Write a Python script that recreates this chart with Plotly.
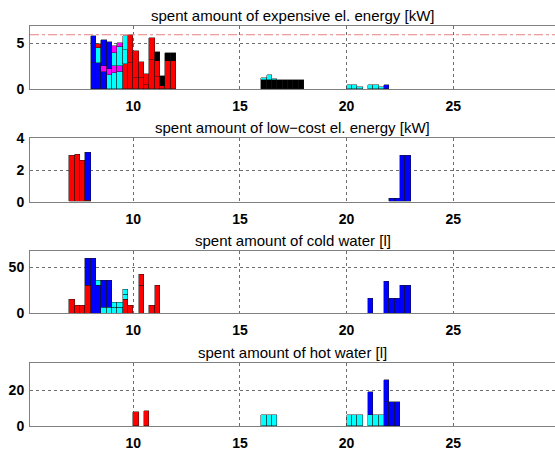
import plotly.graph_objects as go

# ---------------- data ----------------
PALETTE = ["#0000FF", "#00FFFF", "#FF00FF", "#FF0000", "#000000"]  # colour cycle of appliances

TITLES = [
    "spent amount of expensive el. energy [kW]",
    "spent amount of low\u2212cost el. energy [kW]",
    "spent amount of cold water [l]",
    "spent amount of hot water [l]",
]

X_TICKS = [10, 15, 20, 25]

# panel 1: expensive electric energy [kW]
T1 = [8.0, 8.25, 8.5, 8.75, 9.0, 9.25, 9.5, 9.75, 10.0, 10.25, 10.5, 10.75, 11.0, 11.25, 11.5, 11.75,
      16.0, 16.25, 16.5, 16.75, 17.0, 17.25, 17.5, 17.75,
      20.0, 20.25, 20.5, 21.0, 21.25, 21.5, 21.75]
E_A1 = [2.9, 2.9, 1.9, 0, 0, 0, 0, 0, 0, 0, 0, 0, 0, 0, 0, 0,
        0, 0, 0, 0, 0, 0, 0, 0,
        0, 0, 0, 0, 0, 0, 0.43]
E_A2 = [0, 1.55, 0, 1.6, 1.8, 1.9, 0, 0, 0, 0, 0, 0, 0, 0, 0, 0,
        0, 0, 0, 0, 0, 0, 0, 0,
        0.43, 0.5, 0.29, 0.5, 0.5, 0.29, 0]
E_A3 = [0, 0, 0.6, 0.65, 0.75, 0.65, 0, 0, 0, 0, 0, 0, 0, 0, 0, 0,
        0, 0, 0, 0, 0, 0, 0, 0,
        0, 0, 0, 0, 0, 0, 0]
E_A4 = [0, 0.45, 0, 0, 0, 0, 2.8, 2.9, 1.25, 1.2, 0.45, 3.15, 1.3, 0.4, 3.1, 3.1,
        0, 0, 0, 0, 0, 0, 0, 0,
        0, 0, 0, 0, 0, 0, 0]
E_A5 = [0, 0, 0, 0, 0, 0, 0, 0, 0, 0, 0, 0, 0, 0, 0, 0,
        1.05, 1.05, 1.05, 1.05, 1.05, 1.05, 1.05, 1.05,
        0, 0, 0, 0, 0, 0, 0]
E_A6 = [2.9, 0, 2.9, 2.9, 0, 0, 0, 0, 0, 0, 0, 0, 0, 0, 0, 0,
        0, 0, 0, 0, 0, 0, 0, 0,
        0, 0, 0, 0, 0, 0, 0]
E_A7 = [0, 0, 0, 0, 1.35, 2.0, 1.5, 0, 0, 0, 0, 0, 0, 0, 0, 0,
        0.2, 0.55, 0.07, 0, 0, 0, 0, 0,
        0, 0, 0, 0, 0, 0, 0]
E_A8 = [0, 0, 0, 0, 0.8, 0.45, 0, 0, 0, 0, 0, 0, 0, 0, 0, 0,
        0, 0, 0, 0, 0, 0, 0, 0,
        0, 0, 0, 0, 0, 0, 0]
E_A9 = [0, 0, 0, 0, 0, 0, 0, 3.0, 2.95, 1.8, 1.25, 2.4, 1.8, 0, 0, 0,
        0, 0, 0, 0, 0, 0, 0, 0,
        0, 0, 0, 0, 0, 0, 0]
E_A10 = [0, 0, 0, 0, 0, 0, 0, 0, 0, 0, 0, 0, 0.95, 1.0, 0.85, 0.85,
         0, 0, 0, 0, 0, 0, 0, 0,
         0, 0, 0, 0, 0, 0, 0]
E_A12 = [0, 0, 0, 0, 0, 0, 1.5, 0, 0, 0, 0, 0, 0, 0, 0, 0,
         0, 0, 0, 0, 0, 0, 0, 0,
         0, 0, 0, 0, 0, 0, 0]
E_LIMIT = 5.93  # power limit (dash-dot line)

# panel 2: low-cost electric energy [kW]
T2 = [7.0, 7.25, 7.5, 7.75, 22.0, 22.25, 22.5, 22.75]
L_A4 = [2.95, 3.0, 2.63, 0.1, 0, 0, 0, 0]
L_A6 = [0, 0, 0, 3.0, 0.2, 0.2, 2.9, 2.9]

# panel 3: cold water [l]
T3 = [7.0, 7.25, 7.5, 7.75, 8.0, 8.25, 8.5, 8.75, 9.0, 9.25, 9.5, 9.75, 10.25, 10.75, 11.0,
      21.0, 21.75, 22.0, 22.25, 22.5, 22.75]
C_A1 = [0, 0, 0, 0, 0, 30, 0, 0, 0, 0, 0, 0, 0, 0, 0,
        0, 0, 0, 0, 0, 0]
C_A2 = [0, 0, 0, 0, 0, 5, 6.4, 6.4, 6.4, 6.4, 0, 0, 0, 0, 0,
        0, 0, 0, 0, 0, 0]
C_A4 = [14.3, 8.2, 8.2, 30.4, 0, 0, 0, 0, 0, 0, 14.3, 8.2, 29.6, 8.2, 30.4,
        0, 0, 0, 0, 0, 0]
C_A6 = [0, 0, 0, 29, 59.3, 0, 28.6, 28.6, 0, 0, 0, 0, 0, 0, 0,
        16.3, 34, 16.3, 16.3, 29.7, 29.7]
C_A7 = [0, 0, 0, 0, 0, 0, 0, 0, 5.4, 5.4, 5.4, 0, 0, 0, 0,
        0, 0, 0, 0, 0, 0]
C_A9 = [0, 0, 0, 0, 0, 0, 0, 0, 0, 0, 0, 0, 12.4, 0, 0,
        0, 0, 0, 0, 0, 0]
C_A12 = [0, 0, 0, 0, 0, 0, 0, 0, 0, 0, 5.4, 0, 0, 0, 0,
         0, 0, 0, 0, 0, 0]

# panel 4: hot water [l]
T4 = [10.0, 10.5, 16.0, 16.25, 16.5, 20.0, 20.25, 20.5, 21.0, 21.25, 21.5, 21.75, 22.0, 22.25]
H_A1 = [0, 0, 0, 0, 0, 0, 0, 0, 0, 0, 0, 13.0, 13.0, 13.0]
H_A2 = [0, 0, 5.9, 5.9, 5.9, 5.9, 5.9, 5.9, 5.9, 5.9, 5.9, 0, 0, 0]
H_A4 = [7.4, 8.3, 0, 0, 0, 0, 0, 0, 0, 0, 0, 0, 0, 0]
H_A6 = [0, 0, 0, 0, 0, 0, 0, 0, 12.8, 0, 0, 12.6, 0, 0]

PANELS = [
    (T1, [(1, E_A1), (2, E_A2), (3, E_A3), (4, E_A4), (5, E_A5), (6, E_A6), (7, E_A7),
          (8, E_A8), (9, E_A9), (10, E_A10), (12, E_A12)], [0, 6.88], [0, 5]),
    (T2, [(4, L_A4), (6, L_A6)], [0, 4], [0, 2, 4]),
    (T3, [(1, C_A1), (2, C_A2), (4, C_A4), (6, C_A6), (7, C_A7), (9, C_A9), (12, C_A12)], [0, 68], [0, 50]),
    (T4, [(1, H_A1), (2, H_A2), (4, H_A4), (6, H_A6)], [0, 35], [0, 20]),
]

# ---------------- layout geometry ----------------
W, H = 555, 450
BIN = 0.25
X_RANGE = [5.157, 29.77]
# panel boxes in pixels (top, bottom)
BOXES = [(26, 89.3), (138.3, 201.7), (250.7, 313.3), (363.3, 426)]

FONT = "Liberation Sans, Arial, Helvetica, sans-serif"

fig = go.Figure()
layout = dict(
    width=W, height=H,
    margin=dict(l=30, r=0, t=0, b=0, autoexpand=False),
    paper_bgcolor="white", plot_bgcolor="white",
    barmode="stack", bargap=0, showlegend=False,
    font=dict(family=FONT, color="black"),
)
annotations = []
shapes = []

for i, (T, series, yr, yt) in enumerate(PANELS):
    n = i + 1
    xa = "x" if n == 1 else f"x{n}"
    ya = "y" if n == 1 else f"y{n}"
    for app, vals in series:
        fig.add_trace(go.Bar(
            x=T, y=[v if v else None for v in vals],
            width=BIN, offset=0,
            marker=dict(color=PALETTE[(app - 1) % len(PALETTE)],
                        line=dict(color="rgba(20,20,20,0.75)", width=0.6)),
            xaxis=xa, yaxis=ya, hoverinfo="skip",
        ))
    top, bot = BOXES[i]
    d0, d1 = 1 - bot / H, 1 - top / H
    axis_common = dict(
        showline=True, mirror=True, linecolor="#808080", linewidth=1,
        showgrid=True, gridcolor="#6e6e6e", griddash="dot", gridwidth=1,
        zeroline=False, automargin=False,
        tickfont=dict(family=FONT, size=14, color="black", weight="bold"),
    )
    layout["xaxis" if n == 1 else f"xaxis{n}"] = dict(
        axis_common, range=X_RANGE, tickvals=X_TICKS, anchor=ya,
        ticks="outside", ticklen=4, tickcolor="rgba(0,0,0,0)",
    )
    layout["yaxis" if n == 1 else f"yaxis{n}"] = dict(
        axis_common, range=yr, tickvals=yt, domain=[d0, d1], anchor=xa,
        ticks="outside", ticklen=2, tickcolor="rgba(0,0,0,0)",
    )
    annotations.append(dict(
        text=TITLES[i], xref="paper", yref="paper", x=0.5, y=d1,
        xanchor="center", yanchor="bottom", yshift=0, showarrow=False,
        font=dict(family=FONT, size=15, color="black"),
    ))

shapes.append(dict(
    type="line", xref="x domain", yref="y", x0=0, x1=1, y0=E_LIMIT, y1=E_LIMIT,
    line=dict(color="#e88080", width=1, dash="dashdot"), layer="above",
))

layout["annotations"] = annotations
layout["shapes"] = shapes
fig.update_layout(**layout)

fig.write_html(
    "out.html",
    config={"displayModeBar": False},
    post_script="document.body.style.margin='0';document.body.style.padding='0';",
)
